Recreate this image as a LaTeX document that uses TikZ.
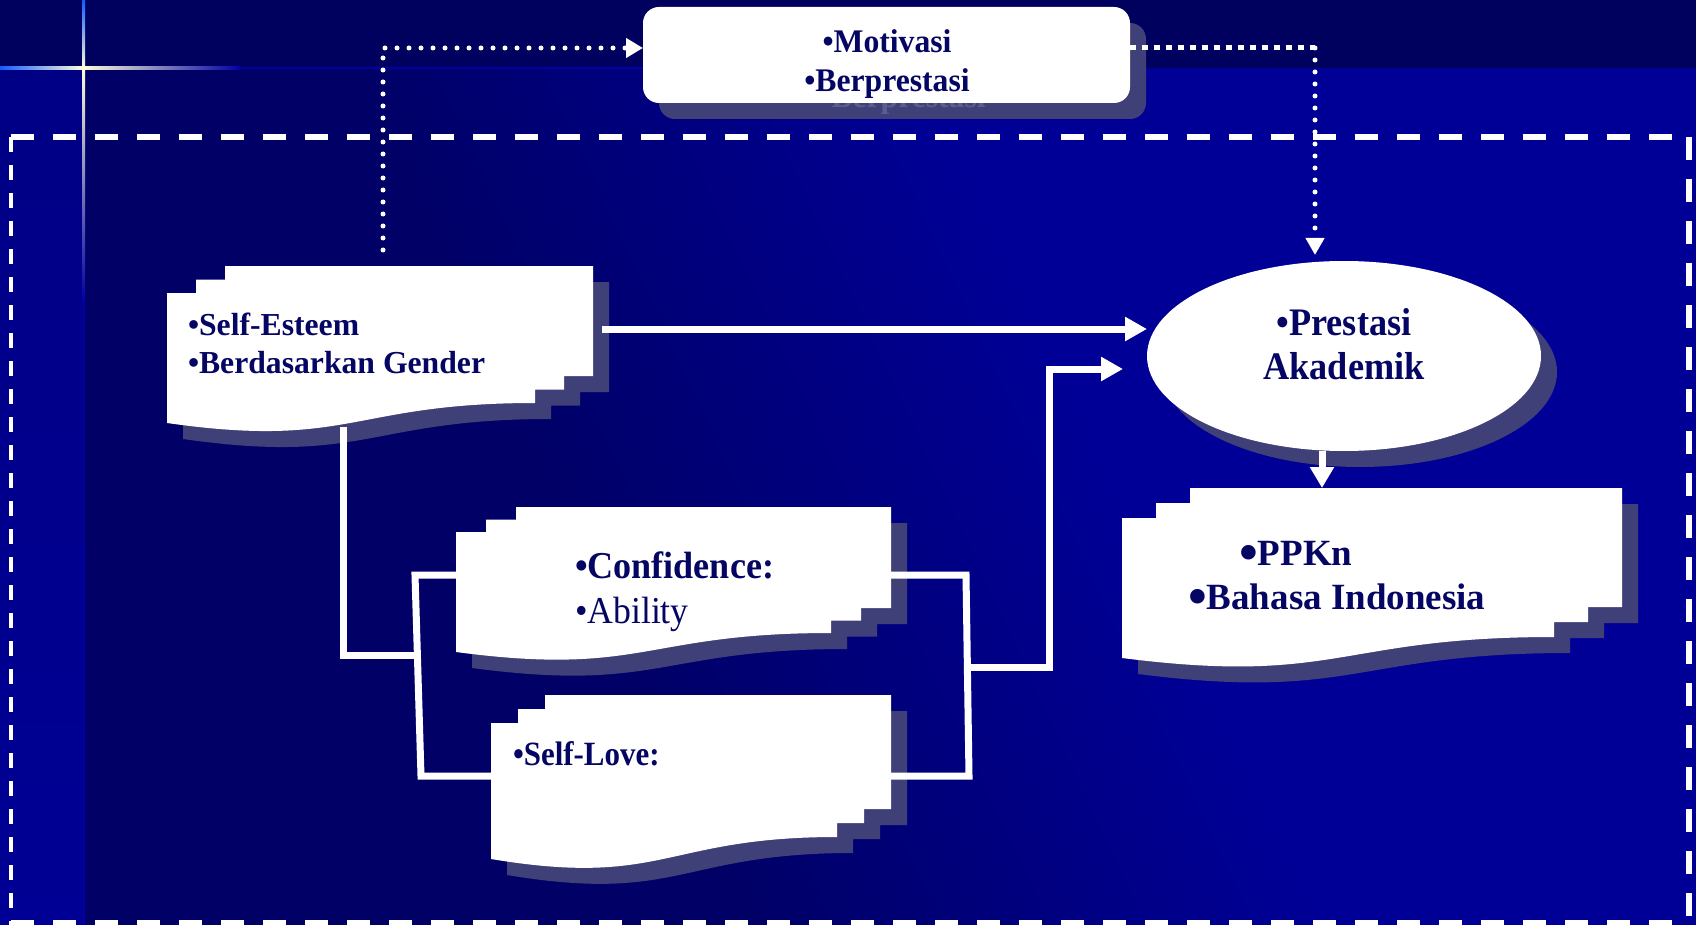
\documentclass[tikz,border=0pt]{standalone}
\usepackage{fontspec}
\setmainfont{Liberation Serif}
\usepackage{graphicx}
\usetikzlibrary{shapes.geometric,arrows.meta,calc}
\definecolor{bgdark}{RGB}{0,0,102}
\definecolor{bgbright}{RGB}{0,0,150}
\definecolor{bgtop}{RGB}{0,0,94}
\definecolor{stripc}{RGB}{0,0,148}
\definecolor{shadowc}{RGB}{64,64,120}
\definecolor{ghostc}{RGB}{92,92,142}
\definecolor{txt}{RGB}{5,5,100}
\definecolor{glowc}{RGB}{255,255,215}
\definecolor{glowb}{RGB}{20,90,255}
\definecolor{glowd}{RGB}{0,0,165}
\pgfdeclarehorizontalshading{bgsh}{100bp}{color(0bp)=(bgdark); color(40bp)=(bgdark); color(58bp)=(bgbright); color(100bp)=(bgbright)}
% multidocument shape: L, T, R, yr0, B, dx, dy, style
\newcommand{\mdoc}[8]{%
  \fill[#8] (#1,{#2+2*#7}) -- ({#1+#6},{#2+2*#7}) -- ({#1+#6},{#2+#7}) -- ({#1+2*#6},{#2+#7}) -- ({#1+2*#6},#2) -- (#3,#2) -- (#3,#4) -- ({#3-#6},#4) -- ({#3-#6},{#4+#7}) -- ({#3-2*#6},{#4+#7}) -- ({#3-2*#6},{#4+2*#7}) .. controls ({(#1+#3-2*#6)/2},{#4+2*#7}) and ({(#1+#3-2*#6)/2},{#4+2*#7+2.31*(#5-#4-2*#7)}) .. (#1,#5) -- cycle;}
\newcommand{\bigbul}{\raisebox{-5pt}{\scalebox{1.45}{•}}}
\tikzset{
  shd/.style={fill=shadowc},
  txtst/.style={text=txt, inner sep=0pt, outer sep=0pt},
  conn/.style={draw=white, line width=7pt},
  solidarrow/.style={draw=white, line width=7pt, -{Triangle[length=22pt,width=23pt]}},
  dotr/.style={draw=white, line width=5pt, line cap=round, dash pattern=on 0pt off 12pt},
  dotsq/.style={draw=white, line width=5pt, dash pattern=on 6pt off 6pt},
  framedash/.style={draw=white, line width=6pt, dash pattern=on 23pt off 19pt},
  frameleft/.style={draw=white, line width=4.5pt, dash pattern=on 15pt off 13pt},
}
\begin{document}
\begin{tikzpicture}[x=1pt,y=-1pt]
\useasboundingbox (0,0) rectangle (1696,925);
% background
\shade[shading=bgsh, shading angle=25] (0,0) rectangle (1696,925);
\fill[bgtop] (0,0) rectangle (1696,68);
\shade[top color=stripc!90!black, bottom color=stripc] (0,68) rectangle (83,925);
\fill[glowd] (83,300) rectangle (85,925);
\fill[glowd] (240,67) rectangle (650,69);
% glow cross
\shade[top color=glowb, bottom color=glowc] (82,0) rectangle (85,68);
\shade[top color=glowc, middle color=glowb, bottom color=glowd] (82,68) rectangle (85,300);
\shade[left color=glowb, right color=glowc] (0,66.5) rectangle (83,69.5);
\shade[left color=glowc, middle color=glowb, right color=glowd] (83,66.5) rectangle (240,69.5);
% dashed frame
\draw[framedash] (11,137) -- (1689,137);
\draw[framedash] (1689,137) -- (1689,925);
\draw[framedash] (11,923) -- (1689,923);
\draw[frameleft] (11,137) -- (11,925);
% shadows
\fill[shd, rounded corners=16pt] (659,23) rectangle (1146,119);
\node[txtst, text=ghostc, anchor=base, font=\fontsize{33}{39}\selectfont\bfseries] (mtg) at (903,108) {\scalebox{0.96}[1]{•Berprestasi}};
\fill[shd] (1360,372) ellipse [x radius=197, y radius=95];
\mdoc{167}{266}{593}{376}{423}{29}{13.5}{shd, shift={(16,16)}}
\mdoc{456}{507}{891}{608}{652}{30}{12.5}{shd, shift={(16,16)}}
\mdoc{491}{695}{891}{809}{859}{27}{14}{shd, shift={(16,16)}}
\mdoc{1122}{488}{1622}{607}{658}{34}{15}{shd, shift={(16,16)}}
% white shapes
\node[fill=white, rounded corners=16pt, minimum width=487pt, minimum height=96pt, inner sep=0pt, outer sep=0pt] (mot) at (886.5,55) {};
\node[ellipse, fill=white, minimum width=394pt, minimum height=190pt, inner sep=0pt, outer sep=0pt] (prest) at (1344,356) {};
\mdoc{167}{266}{593}{376}{423}{29}{13.5}{white}
\mdoc{456}{507}{891}{608}{652}{30}{12.5}{white}
\mdoc{491}{695}{891}{809}{859}{27}{14}{white}
\mdoc{1122}{488}{1622}{607}{658}{34}{15}{white}
% connection points
\coordinate (sedot) at (383,250);
\coordinate (c1) at (383,48);
\coordinate (c2) at (1315,48);
\coordinate (se-e) at (602,329);
\coordinate (se-bot) at (343,427);
\coordinate (lb-mid) at (417,655);
\coordinate (lb-top) at (415,575);
\coordinate (lb-bot) at (421,776);
\coordinate (conf-w) at (456,575);
\coordinate (conf-e) at (891,575);
\coordinate (sl-w) at (491,776);
\coordinate (sl-e) at (891,776);
\coordinate (rb-top) at (966,575);
\coordinate (rb-bot) at (969,776);
\coordinate (rb-mid) at (968,667);
\coordinate (k1) at (1049,667);
\coordinate (k2) at (1049,369);
\coordinate (pp-in) at (1322,488);
% connectors
\draw[dotr, -{Triangle[length=17pt,width=19pt]}] (sedot) -- (c1) -- ([yshift=7pt]mot.west);
\draw[dotsq] ([yshift=7pt]mot.east) -- (c2);
\draw[dotr, shorten >=6pt, -{Triangle[length=17pt,width=18pt]}] (c2) -- (c2 |- prest.north);
\draw[solidarrow] (se-e) -- (prest.west |- se-e);
\draw[solidarrow, shorten >=24pt] (rb-mid) -- (k1) -- (k2) -- ([yshift=-13pt]prest.west);
\draw[solidarrow, -{Triangle[length=21pt,width=23pt]}] (prest.south -| pp-in) -- (pp-in);
\draw[conn] (se-bot) |- (lb-mid);
\draw[conn] (conf-w) -- (lb-top) -- (lb-bot) -- (sl-w);
\draw[conn] (conf-e) -- (rb-top) -- (rb-bot) -- (sl-e);
% texts
\node[txtst, anchor=base, font=\fontsize{33}{39}\selectfont\bfseries] (mt1) at (887,53) {\scalebox{0.96}[1]{•Motivasi}};
\node[txtst, anchor=base, font=\fontsize{33}{39}\selectfont\bfseries] (mt2) at (887,92) {\scalebox{0.96}[1]{•Berprestasi}};
\node[txtst, anchor=base west, font=\fontsize{32}{38}\selectfont\bfseries] (se1) at (188,335) {\scalebox{0.99}[1]{•Self-Esteem}};
\node[txtst, anchor=base west, font=\fontsize{32}{38}\selectfont\bfseries] (se2) at (188,373) {\scalebox{0.99}[1]{•Berdasarkan Gender}};
\node[txtst, anchor=base west, font=\fontsize{38}{44}\selectfont\bfseries] (cf1) at (575,578) {\scalebox{0.95}[1]{•Confidence:}};
\node[txtst, anchor=base west, font=\fontsize{38}{44}\selectfont] (cf2) at (575,623) {\scalebox{0.94}[1]{•Ability}};
\node[txtst, anchor=base west, font=\fontsize{34}{40}\selectfont\bfseries] (sl1) at (513,765) {\scalebox{0.91}[1]{•Self-Love:}};
\node[txtst, anchor=base, font=\fontsize{39}{44}\selectfont\bfseries] (pr1) at (1344,335) {\scalebox{0.93}[1]{•Prestasi}};
\node[txtst, anchor=base, font=\fontsize{39}{44}\selectfont\bfseries] (pr2) at (1344,379) {\scalebox{0.93}[1]{Akademik}};
\node[txtst, anchor=base west, font=\fontsize{37}{44}\selectfont\bfseries] (pp1) at (1239,565) {\bigbul PPKn};
\node[txtst, anchor=base west, font=\fontsize{37}{44}\selectfont\bfseries] (pp2) at (1188,609) {\bigbul Bahasa Indonesia};
\end{tikzpicture}
\end{document}
